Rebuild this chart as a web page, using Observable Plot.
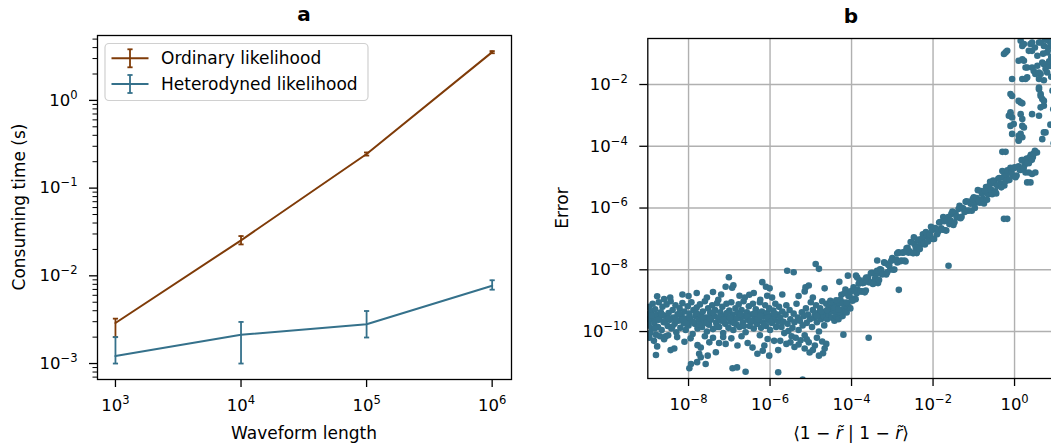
<!DOCTYPE html>
<html>
<head>
<meta charset="utf-8">
<script src="https://cdn.jsdelivr.net/npm/d3@7"></script>
<script src="https://cdn.jsdelivr.net/npm/@observablehq/plot@0.6"></script>
<style>
  html, body { margin: 0; padding: 0; background: white; overflow: hidden; }
  #wrap { position: relative; width: 1051px; height: 448px; overflow: hidden; font-family: "DejaVu Sans", sans-serif; }
  .panel { position: absolute; top: 0; }
  .panel svg { display: block; }
  #overlay { position: absolute; left: 0; top: 0; pointer-events: none; }
</style>
</head>
<body>
<div id="wrap">
  <div id="left" class="panel" style="left:0px;width:525px;"></div>
  <div id="right" class="panel" style="left:525px;width:545px;"></div>
</div>
<script>
// ---------- Panel a: timing data ----------
const lengths = [1e3, 1e4, 1e5, 1e6];
const ordinaryTime = [2.9e-3, 0.0254, 0.245, 3.55];
const ordinaryLow  = [2.0e-3, 0.0228, 0.235, 3.45];
const ordinaryHigh = [3.25e-3, 0.0284, 0.255, 3.65];
const heteroTime = [1.22e-3, 2.13e-3, 2.8e-3, 7.7e-3];
const heteroLow  = [1.0e-3, 1.0e-3, 1.98e-3, 6.95e-3];
const heteroHigh = [2.0e-3, 2.98e-3, 3.97e-3, 8.9e-3];
const seriesNames = ["Ordinary likelihood", "Heterodyned likelihood"];
const seriesColors = ["#7f3b08", "#35718b"];
const xTicksA = [1e3, 1e4, 1e5, 1e6];
const yTicksA = [1e-3, 1e-2, 1e-1, 1e0];

// ---------- Panel b: scatter (log10 exponents: [overlap, error]) ----------
const floorPoints = [
[-9.0,-9.45],[-8.98,-9.8],[-8.97,-9.2],[-8.95,-9.62],[-8.94,-10.05],[-8.92,-9.35],[-8.9,-9.9],[-8.88,-9.1],[-8.86,-9.55],[-8.84,-9.72],[-8.82,-9.28],[-8.8,-10.1],[-8.78,-9.45],[-8.75,-9.85],[-8.73,-9.05],[-8.71,-9.6],[-8.68,-9.38],[-8.66,-9.95],[-8.64,-9.2],[-8.61,-9.7],[-8.58,-9.5],[-8.56,-10.15],[-8.54,-9.12],[-8.51,-9.82],[-8.49,-9.4],[-8.46,-9.62],[-8.44,-9.02],[-8.42,-9.9],[-8.39,-9.3],[-8.37,-9.55],[-8.34,-9.75],[-8.32,-9.15],[-8.3,-10.02],[-8.27,-9.45],[-8.25,-9.65],[-8.22,-9.25],[-8.2,-9.88],[-8.17,-9.5],[-8.15,-9.08],[-8.12,-9.72],[-8.1,-9.35],[-8.07,-9.95],[-8.05,-9.58],[-8.02,-9.18],[-8.0,-9.8],[-7.98,-9.42],[-7.95,-9.65],[-7.93,-9.05],[-7.9,-10.08],[-7.88,-9.3],[-7.85,-9.75],[-7.83,-9.5],[-7.8,-9.22],[-7.78,-9.9],[-7.75,-9.6],[-7.72,-9.12],[-7.7,-9.45],[-7.67,-9.85],[-7.65,-9.35],[-7.62,-9.68],[-7.6,-9.02],[-7.57,-9.55],[-7.55,-10.0],[-7.52,-9.25],[-7.5,-9.78],[-7.47,-9.4],[-7.45,-9.62],[-7.42,-9.15],[-7.4,-9.92],[-7.37,-9.5],[-7.35,-9.3],[-7.32,-9.72],[-7.3,-9.08],[-7.27,-9.58],[-7.25,-9.85],[-7.22,-9.38],[-7.2,-9.65],[-7.17,-9.2],[-7.15,-10.05],[-7.12,-9.48],[-7.1,-9.75],[-7.07,-9.1],[-7.05,-9.55],[-7.02,-9.88],[-7.0,-9.32],[-6.97,-9.68],[-6.95,-9.05],[-6.92,-9.45],[-6.9,-9.95],[-6.87,-9.6],[-6.85,-9.25],[-6.82,-9.78],[-6.8,-9.4],[-6.77,-9.12],[-6.75,-9.85],[-6.72,-9.55],[-6.7,-9.3],[-6.67,-9.7],[-6.65,-9.02],[-6.62,-9.5],[-6.6,-10.02],[-6.57,-9.38],[-6.55,-9.62],[-6.52,-9.18],[-6.5,-9.82],[-6.47,-9.45],[-6.45,-9.68],[-6.42,-9.1],[-6.4,-9.9],[-6.37,-9.55],[-6.35,-9.28],[-6.32,-9.75],[-6.3,-9.42],[-6.27,-9.6],[-6.25,-9.05],[-6.22,-9.88],[-6.2,-9.35],[-6.17,-9.7],[-6.15,-9.5],[-6.12,-9.15],[-6.1,-9.82],[-6.07,-9.4],[-6.05,-9.62],[-6.02,-9.25],[-6.0,-9.95],[-5.97,-9.5],[-5.95,-9.72],[-5.92,-9.32],[-5.9,-9.58],[-5.87,-9.1],[-5.85,-9.85],[-5.82,-9.45],[-5.8,-9.68],
[-8.99,-9.6],[-8.91,-9.48],[-8.83,-9.9],[-8.74,-9.62],[-8.65,-9.45],[-8.57,-9.7],[-8.48,-9.58],[-8.4,-9.85],[-8.31,-9.62],[-8.23,-9.42],[-8.14,-9.6],[-8.06,-9.75],[-7.97,-9.55],[-7.89,-9.68],[-7.81,-9.4],[-7.73,-9.78],[-7.64,-9.55],[-7.56,-9.72],[-7.48,-9.58],[-7.39,-9.38],[-7.31,-9.85],[-7.23,-9.52],[-7.14,-9.62],[-7.06,-9.4],[-6.98,-9.55],[-6.89,-9.72],[-6.81,-9.58],[-6.73,-9.45],[-6.64,-9.82],[-6.56,-9.52],[-6.48,-9.65],[-6.39,-9.42],[-6.31,-9.6],[-6.23,-9.5],[-6.14,-9.78],[-6.06,-9.55],[-5.98,-9.68],[-5.89,-9.42],
[-8.96,-10.2],[-8.85,-10.3],[-8.77,-10.48],[-8.8,-10.76],[-8.7,-10.15],[-8.6,-10.25],[-8.44,-10.6],[-8.35,-10.55],[-8.5,-10.12],[-8.28,-10.18],[-8.1,-10.33],[-7.95,-10.22],[-7.78,-10.44],[-7.7,-10.52],[-7.74,-10.72],[-7.7,-10.83],[-7.53,-10.78],[-7.33,-10.67],[-7.49,-10.35],[-7.25,-10.37],[-7.6,-10.15],[-7.4,-10.2],[-7.09,-10.4],[-6.8,-10.45],[-6.55,-10.37],[-6.43,-10.52],[-6.31,-10.72],[-6.14,-10.45],[-6.18,-10.62],[-6.06,-10.24],[-6.02,-10.78],[-7.15,-10.18],[-6.95,-10.22],[-6.7,-10.15],[-6.25,-10.12],[-5.9,-10.3],
[-7.79,-10.99],[-7.58,-11.05],[-7.94,-11.05],[-7.98,-11.19],[-6.92,-11.19],[-6.81,-11.16],[-6.6,-11.3],[-5.8,-11.32],[-5.2,-11.55],
[-8.77,-8.86],[-8.6,-8.95],[-8.45,-8.9],[-8.15,-8.8],[-8.0,-8.85],[-7.8,-8.75],[-7.55,-8.9],[-7.4,-8.72],[-7.27,-8.97],[-7.2,-8.8],[-7.09,-8.55],[-7.01,-8.24],[-6.9,-8.5],[-6.93,-8.58],[-6.75,-8.84],[-6.62,-8.9],[-6.51,-8.81],[-6.4,-8.75],[-6.24,-8.97],[-6.19,-8.4],[-6.1,-8.55],[-6.07,-8.84],[-6.01,-8.6],[-5.95,-8.9],[-5.7,-8.8],[-5.58,-8.03],[-5.42,-8.08],[-5.3,-8.85],[-5.15,-8.7],[-5.13,-8.57],[-5.05,-8.51],[-4.95,-8.9],[-4.88,-7.81],[-4.8,-7.97],[-4.66,-8.6],
[-5.78,-9.2],[-5.75,-9.55],[-5.72,-9.85],[-5.7,-9.35],[-5.67,-9.68],[-5.65,-10.05],[-5.62,-9.45],[-5.6,-9.15],[-5.57,-9.75],[-5.55,-9.98],[-5.52,-9.3],[-5.5,-9.6],[-5.47,-10.15],[-5.45,-9.88],[-5.42,-9.42],[-5.4,-9.7],[-5.37,-10.2],[-5.35,-9.1],[-5.32,-9.55],[-5.3,-9.95],[-5.27,-9.65],[-5.25,-10.28],[-5.22,-9.38],[-5.2,-9.8],[-5.17,-9.5],[-5.15,-10.12],[-5.12,-9.25],[-5.1,-9.72],[-5.07,-9.45],[-5.05,-10.35],[-5.02,-9.6],[-5.0,-9.05],[-4.97,-9.85],[-4.95,-9.3],[-4.92,-9.55],[-4.9,-10.45],[-4.87,-9.15],[-4.85,-9.7],[-4.82,-9.4],[-4.8,-10.0],[-4.77,-9.25],[-4.75,-9.6],[-4.72,-9.02],[-4.7,-9.5],[-4.67,-9.8],[-4.65,-9.35],[-4.62,-9.1],[-4.6,-9.6],[-4.57,-9.45],[-4.55,-9.2],[-4.52,-9.0],[-4.5,-9.35],
[-5.75,-10.3],[-5.6,-10.4],[-5.5,-10.35],[-5.8,-10.6],[-5.4,-10.5],[-5.3,-10.42],[-5.15,-10.55],[-5.03,-10.68],[-4.95,-10.6],[-4.8,-10.78],[-4.7,-10.7],[-4.66,-10.55],[-4.72,-10.32],[-4.62,-10.4],[-5.1,-10.25],[-4.85,-10.2],
[-4.48,-9.55],[-4.42,-9.65],[-4.38,-9.5],[-4.32,-9.6],[-4.28,-9.42],[-4.22,-9.5],[-4.18,-9.3],[-4.12,-9.38],[-4.08,-9.2],[-4.03,-9.25],[-4.45,-9.25],[-4.36,-9.18],[-4.26,-9.3],[-4.16,-9.15],[-4.9,-9.45],[-4.75,-9.35],[-4.6,-9.3],[-4.85,-9.5]
];
const risingPoints = [
[-4.45,-9.08],[-4.4,-9.34],[-4.35,-9.07],[-4.3,-9.37],[-4.25,-8.81],[-4.2,-9.06],[-4.15,-8.64],[-4.1,-9.09],[-4.05,-8.75],[-4.0,-8.92],[-3.95,-8.57],[-3.9,-8.95],[-3.85,-8.65],[-3.8,-8.34],[-3.75,-8.7],[-3.7,-8.42],[-3.65,-8.67],[-3.6,-8.25],[-3.55,-8.4],[-3.5,-8.1],[-3.45,-8.43],[-3.4,-8.15],[-3.35,-8.43],[-3.3,-7.98],[-3.25,-8.15],[-3.2,-7.76],[-3.15,-8.15],[-3.1,-7.84],[-3.05,-7.99],[-3.0,-7.62],[-2.95,-7.99],[-2.9,-7.68],[-2.85,-7.43],[-2.8,-7.72],[-2.75,-7.45],[-2.7,-7.7],[-2.65,-7.3],[-2.6,-7.45],[-2.55,-7.1],[-2.5,-7.46],[-2.45,-7.17],[-2.4,-7.46],[-2.35,-7.03],[-2.3,-7.18],[-2.25,-6.85],[-2.2,-7.18],[-2.15,-6.91],[-2.1,-7.02],[-2.05,-6.61],[-2.0,-7.0],[-1.95,-6.65],[-1.9,-6.85],[-1.85,-6.47],[-1.8,-6.66],[-1.75,-6.29],[-1.7,-6.72],[-1.65,-6.4],[-1.6,-6.52],[-1.55,-6.19],[-1.5,-6.55],[-1.45,-6.17],[-1.4,-6.3],[-1.35,-5.93],[-1.3,-6.28],[-1.25,-6.03],[-1.2,-5.8],[-1.15,-6.09],[-1.1,-5.8],[-1.05,-6.09],[-1.0,-5.65],[-0.95,-5.83],[-0.9,-5.42],[-0.85,-5.83],[-0.8,-5.54],[-0.75,-5.85],[-0.7,-5.32],[-0.65,-5.55],[-0.6,-5.15],[-0.55,-5.55],[-0.5,-5.2],[-0.45,-5.53],[-0.4,-5.05],[-0.35,-5.2],[-0.3,-4.8],[-0.25,-5.27],[-0.2,-4.92],[-0.15,-5.1],[-0.1,-4.7],[-0.05,-4.95],[0.0,-4.68],[0.05,-4.95],[0.1,-4.65],[0.15,-4.77],[0.2,-4.45],[0.25,-4.6],[0.3,-4.4],[0.35,-4.55],[0.4,-4.28],[0.45,-4.35],[0.5,-4.15],[0.55,-4.2],
[-4.425,-9.23],[-4.375,-8.99],[-4.325,-9.29],[-4.275,-8.97],[-4.225,-9.1],[-4.175,-8.76],[-4.125,-9.06],[-4.075,-8.85],[-4.025,-8.7],[-3.975,-9.0],[-3.925,-8.68],[-3.875,-8.76],[-3.825,-8.45],[-3.775,-8.7],[-3.725,-8.43],[-3.675,-8.73],[-3.625,-8.29],[-3.575,-8.4],[-3.525,-8.11],[-3.475,-8.46],[-3.425,-8.28],[-3.375,-8.03],[-3.325,-8.33],[-3.275,-8.0],[-3.225,-8.13],[-3.175,-7.78],[-3.125,-8.08],[-3.075,-7.86],[-3.025,-7.71],[-2.975,-8.0],[-2.925,-7.68],[-2.875,-7.76],[-2.825,-7.45],[-2.775,-7.7],[-2.725,-7.43],[-2.675,-7.73],[-2.625,-7.29],[-2.575,-7.4],[-2.525,-7.11],[-2.475,-7.46],[-2.425,-7.28],[-2.375,-7.03],[-2.325,-7.33],[-2.275,-7.0],[-2.225,-7.13],[-2.175,-6.78],[-2.125,-7.08],[-2.075,-6.86],[-2.025,-6.71],[-1.975,-7.0],[-1.925,-6.68],[-1.875,-6.76],[-1.825,-6.45],[-1.775,-6.7],[-1.725,-6.43],[-1.675,-6.73],[-1.625,-6.29],[-1.575,-6.4],[-1.525,-6.11],[-1.475,-6.46],[-1.425,-6.28],[-1.375,-6.03],[-1.325,-6.33],[-1.275,-6.0],[-1.225,-6.13],[-1.175,-5.78],[-1.125,-6.08],[-1.075,-5.86],[-1.025,-5.71],[-0.975,-6.0],[-0.925,-5.68],[-0.875,-5.76],[-0.825,-5.45],[-0.775,-5.7],[-0.725,-5.43],[-0.675,-5.73],[-0.625,-5.29],[-0.575,-5.4],[-0.525,-5.11],[-0.475,-5.46],[-0.425,-5.28],[-0.375,-5.03],[-0.325,-5.33],[-0.275,-5.0],[-0.225,-5.13],[-0.175,-4.78],[-0.125,-5.08],[-0.075,-4.86],[-0.025,-4.71],[0.025,-5.0],[0.075,-4.68],[0.125,-4.76],[0.175,-4.45],[0.225,-4.7],[0.275,-4.43],[0.325,-4.53],[0.375,-4.35],[0.425,-4.44],[0.475,-4.23],
[-2.84,-8.65],[-1.62,-7.87],[-3.37,-7.7],[-2.88,-7.47],[-2.72,-7.44],[-2.47,-6.95],[-3.86,-8.25],[-3.66,-8.3],[-4.3,-8.39],[-4.09,-8.19],[-3.89,-8.19],[-3.64,-8.25],[-4.2,-10.1],[-3.58,-10.2],[-0.3,-4.18],[0.27,-4.85],[0.43,-4.9],[0.31,-5.17],[-0.18,-6.35]
];
const divergentPoints = [
[-0.18,-0.91],[-0.26,-1.01],[-0.22,-0.96],[0.15,-0.58],[0.19,-0.75],[0.23,-0.69],[0.39,-0.69],[0.43,-0.91],[0.43,-0.64],[0.35,-0.91],[0.6,-0.64],[0.56,-1.07],[0.72,-0.75],[0.8,-0.96],[0.88,-0.64],[0.64,-0.64],[0.84,-0.58],[0.19,-1.18],[0.23,-1.23],[0.1,-1.23],[0.27,-1.45],[0.31,-1.45],[0.43,-1.45],[0.47,-1.56],[0.56,-1.39],[0.68,-1.29],[0.72,-1.34],[0.76,-1.5],[0.8,-1.61],[0.64,-1.66],[0.51,-1.66],[0.6,-1.61],[0.6,-1.82],[0.31,-1.77],[0.19,-1.82],[0.27,-1.82],[-0.06,-1.82],[0.72,-1.86],[-0.06,-2.37],[-0.1,-2.31],[0.15,-2.58],[0.1,-2.53],[0.19,-2.61],[0.6,-2.15],[0.64,-2.31],[0.68,-2.47],[0.72,-2.69],[0.64,-2.74],[0.6,-3.01],[0.43,-2.96],[0.6,-2.1],[0.64,-2.37],[0.72,-2.53],[-0.1,-2.96],[-0.06,-3.07],[-0.02,-3.28],[-0.1,-3.34],[-0.14,-3.01],[-0.1,-2.9],[0.15,-2.96],[0.19,-3.12],[0.19,-3.34],[0.23,-3.39],[0.15,-3.6],[0.1,-3.8],[-0.06,-3.6],[0.1,-3.66],[0.19,-3.71],[0.1,-3.82],[0.72,-3.55],[0.68,-3.77],[0.76,-3.55],[-0.22,-4.18],[0.35,-4.85],[0.51,-4.85],[0.39,-5.17],[-0.26,-6.35],
[0.75,-0.55],[0.82,-0.8],[0.9,-1.1],[0.86,-1.4],[0.92,-0.7],[0.7,-1.0],[0.5,-0.8],[0.95,-0.9],[0.85,-1.25],[0.9,-1.75],[0.93,-2.2],[0.95,-2.8],[0.88,-3.3],[0.96,-3.9]
];
const xTicksB = [1e-8, 1e-6, 1e-4, 1e-2, 1e0];
const yTicksB = [1e-10, 1e-8, 1e-6, 1e-4, 1e-2];
const scatterColor = "#35718b";

// ---------- helpers ----------
const powFmt = v => "10^" + Math.round(Math.log10(v));
const capSymbol = {draw(ctx) { ctx.moveTo(-2.6, 0); ctx.lineTo(2.6, 0); }};
const FONT = "DejaVu Sans";

// turn "10^-8" tick labels into 10 with a raised, smaller exponent
function superscriptify(node) {
  d3.select(node).selectAll("text").each(function () {
    const m = this.textContent.match(/^10\^(-?\d+)$/);
    if (!m) return;
    const sel = d3.select(this);
    sel.text(null);
    sel.append("tspan").text("10");
    sel.append("tspan").attr("font-size", "0.7em").attr("dy", "-0.6em")
      .text(m[1].replace("-", "\u2212"));
  });
}

const timingRows = [];
lengths.forEach((L, i) => {
  timingRows.push({series: seriesNames[0], L, t: ordinaryTime[i], lo: ordinaryLow[i], hi: ordinaryHigh[i]});
});
lengths.forEach((L, i) => {
  timingRows.push({series: seriesNames[1], L, t: heteroTime[i], lo: heteroLow[i], hi: heteroHigh[i]});
});
const minorA = [];
for (let e = -4; e <= 0; e++) for (let k = 2; k <= 9; k++) {
  const v = k * Math.pow(10, e);
  if (v > Math.pow(10, -3.182) && v < Math.pow(10, 0.740)) minorA.push(v);
}

const colorScale = {domain: seriesNames, range: seriesColors};
const axisStyle = {tickSize: 8, tickPadding: 12, strokeWidth: 1.3, label: null, tickFormat: powFmt};

const left = Plot.plot({
  width: 525, height: 448,
  marginLeft: 97, marginRight: 14, marginTop: 35, marginBottom: 69,
  style: {fontFamily: FONT, fontSize: "16.5px", color: "black", background: "transparent", overflow: "visible"},
  x: {type: "log", domain: [Math.pow(10, 2.857), Math.pow(10, 6.154)]},
  y: {type: "log", domain: [Math.pow(10, -3.182), Math.pow(10, 0.740)]},
  color: colorScale,
  marks: [
    Plot.axisX(xTicksA, axisStyle),
    Plot.axisY(yTicksA, axisStyle),
    Plot.axisY(minorA, {tickSize: 4.5, strokeWidth: 1, label: null, tickFormat: () => ""}),
    Plot.line(timingRows, {x: "L", y: "t", z: "series", stroke: "series", strokeWidth: 2}),
    Plot.ruleX(timingRows, {x: "L", y1: "lo", y2: "hi", stroke: "series", strokeWidth: 1.8}),
    Plot.dot(timingRows, {x: "L", y: "lo", symbol: capSymbol, stroke: "series", fill: "none", strokeWidth: 1.8}),
    Plot.dot(timingRows, {x: "L", y: "hi", symbol: capSymbol, stroke: "series", fill: "none", strokeWidth: 1.8}),
    Plot.frame({stroke: "black", strokeWidth: 1.3})
  ]
});
superscriptify(left);
document.getElementById("left").appendChild(left);

const scatter = [...floorPoints, ...risingPoints, ...divergentPoints]
  .map(([a, b]) => ({overlap: Math.pow(10, a), error: Math.pow(10, b)}));

const right = Plot.plot({
  width: 545, height: 448,
  marginLeft: 122.3, marginRight: 15.2, marginTop: 38, marginBottom: 70,
  style: {fontFamily: FONT, fontSize: "16.5px", color: "black", background: "transparent", overflow: "visible"},
  x: {type: "log", domain: [1e-9, 1e1]},
  y: {type: "log", domain: [Math.pow(10, -11.52), Math.pow(10, -0.51)]},
  marks: [
    Plot.gridX(xTicksB, {stroke: "#b0b0b0", strokeOpacity: 1, strokeWidth: 1.4}),
    Plot.gridY(yTicksB, {stroke: "#b0b0b0", strokeOpacity: 1, strokeWidth: 1.4}),
    Plot.dot(scatter, {x: "overlap", y: "error", r: 3.3, fill: scatterColor, stroke: "none", clip: "frame"}),
    Plot.frame({stroke: "black", strokeWidth: 1.3}),
    Plot.axisX(xTicksB, axisStyle),
    Plot.axisY(yTicksB, axisStyle)
  ]
});
superscriptify(right);
document.getElementById("right").appendChild(right);

// ---------- titles, axis labels, legend ----------
const svg = d3.select("#wrap").append("svg").attr("id", "overlay")
  .attr("width", 1051).attr("height", 448)
  .style("font-family", FONT);

svg.append("text").attr("x", 304).attr("y", 21).attr("text-anchor", "middle")
  .style("font-size", "20px").style("font-weight", "bold").text("a");
svg.append("text").attr("x", 851).attr("y", 23).attr("text-anchor", "middle")
  .style("font-size", "20px").style("font-weight", "bold").text("b");

svg.append("text").attr("x", 304).attr("y", 439).attr("text-anchor", "middle")
  .style("font-size", "17px").text("Waveform length");
svg.append("text").attr("transform", "translate(25,207) rotate(-90)").attr("text-anchor", "middle")
  .style("font-size", "17px").text("Consuming time (s)");
svg.append("text").attr("transform", "translate(568,208) rotate(-90)").attr("text-anchor", "middle")
  .style("font-size", "17px").text("Error");

const xl = svg.append("text").attr("x", 851).attr("y", 439).attr("text-anchor", "middle").style("font-size", "17px");
xl.append("tspan").text("⟨1 − ");
xl.append("tspan").style("font-style", "italic").text("r\u0303");
xl.append("tspan").text(" | 1 − ");
xl.append("tspan").style("font-style", "italic").text("r\u0303");
xl.append("tspan").text("⟩");

// legend
svg.append("rect").attr("x", 105).attr("y", 43.5).attr("width", 263).attr("height", 57)
  .attr("rx", 4).attr("fill", "white").attr("fill-opacity", 0.8)
  .attr("stroke", "#d0d0d0").attr("stroke-width", 1.2);
const legendRows = [58.3, 84];
seriesNames.forEach((name, i) => {
  const y = legendRows[i], c = seriesColors[i];
  const g = svg.append("g").attr("stroke", c).attr("stroke-width", 2);
  g.append("line").attr("x1", 111.5).attr("x2", 148.5).attr("y1", y).attr("y2", y);
  g.append("line").attr("x1", 130).attr("x2", 130).attr("y1", y - 9).attr("y2", y + 9).attr("stroke-width", 1.8);
  g.append("line").attr("x1", 127.4).attr("x2", 132.6).attr("y1", y - 9).attr("y2", y - 9).attr("stroke-width", 1.8);
  g.append("line").attr("x1", 127.4).attr("x2", 132.6).attr("y1", y + 9).attr("y2", y + 9).attr("stroke-width", 1.8);
  svg.append("text").attr("x", 161).attr("y", y).attr("dy", "0.35em")
    .style("font-size", "17px").text(name);
});
</script>
</body>
</html>
